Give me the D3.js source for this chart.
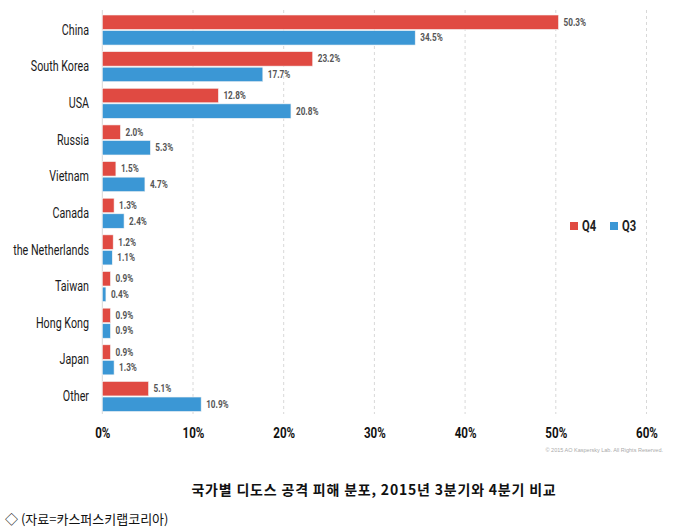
<!DOCTYPE html>
<html><head><meta charset="utf-8">
<script src="https://cdn.jsdelivr.net/npm/d3@7"></script>
<style>
body{margin:0;background:#fff;}
svg{display:block;}
</style></head>
<body><svg id="chart" width="680" height="531"></svg>
<script>
const categories = ["China","South Korea","USA","Russia","Vietnam","Canada","the Netherlands","Taiwan","Hong Kong","Japan","Other"];
const q4 = [50.3,23.2,12.8,2.0,1.5,1.3,1.2,0.9,0.9,0.9,5.1];
const q3 = [34.5,17.7,20.8,5.3,4.7,2.4,1.1,0.4,0.9,1.3,10.9];
const seriesNames = ["Q4","Q3"];
const tickValues = [0,10,20,30,40,50,60];
const colors = {"Q4":"#e04a42","Q3":"#3b97d5"};
const titleText = "국가별 디도스 공격 피해 분포, 2015년 3분기와 4분기 비교";
const sourceText = "◇ (자료=카스퍼스키랩코리아)";
const copyrightText = "© 2015 AO Kaspersky Lab. All Rights Reserved.";

const FONT = "Roboto, 'Noto Sans', sans-serif";
const svg = d3.select("#chart");
const x = d3.scaleLinear().domain([0,60]).range([102.3,646.5]);
const y = d3.scaleBand().domain(categories).range([11.7,414.8]).paddingInner(0.18).paddingOuter(0.09);
const ySub = d3.scaleBand().domain(seriesNames).range([0,y.bandwidth()]).paddingInner(0.07);

const data = categories.map((c,i)=>({cat:c, values:[{s:"Q4",v:q4[i]},{s:"Q3",v:q3[i]}]}));

// grid
svg.append("g").selectAll("line").data(tickValues).join("line")
  .attr("x1",d=>x(d)).attr("x2",d=>x(d))
  .attr("y1",10).attr("y2",414)
  .attr("stroke","#d8d8d8")
  .attr("stroke-width",1)
  .attr("stroke-dasharray",d=>d===0?null:"3,3");

// axis ticks
const xAxis = d3.axisBottom(x).tickValues(tickValues).tickFormat(d=>d+"%").tickSize(0).tickPadding(0);
const ax = svg.append("g").attr("transform","translate(0,428)").call(xAxis);
ax.select(".domain").remove();
ax.selectAll("text").attr("font-family",FONT).attr("font-size",14.5).attr("font-weight","bold").attr("fill","#111")
  .attr("dy","0.71em").attr("transform","scale(0.8,1)");

// category labels
const yAxis = d3.axisLeft(y).tickSize(0).tickPadding(0);
const ay = svg.append("g").attr("transform","translate(89,0)").call(yAxis);
ay.select(".domain").remove();
ay.selectAll("text").attr("font-family",FONT).attr("font-size",14.5).attr("fill","#1a1a1a")
  .attr("transform","scale(0.74,1)");

// bars
const g = svg.append("g").selectAll("g").data(data).join("g")
  .attr("transform",d=>`translate(0,${y(d.cat)})`);
g.selectAll("rect").data(d=>d.values).join("rect")
  .attr("x",x(0)).attr("y",d=>ySub(d.s))
  .attr("width",d=>x(d.v)-x(0)).attr("height",ySub.bandwidth())
  .attr("fill",d=>colors[d.s]).attr("stroke","#f4f4f4").attr("stroke-width",0.6);
g.selectAll("text").data(d=>d.values).join("text")
  .attr("transform",d=>`translate(${x(d.v)+5},${ySub(d.s)+ySub.bandwidth()/2}) scale(0.82,1)`)
  .attr("dy","0.35em").attr("font-family",FONT).attr("font-size",10).attr("font-weight","bold").attr("fill","#555")
  .text(d=>d.v.toFixed(1)+"%");

// legend
const leg = svg.append("g").selectAll("g").data(seriesNames).join("g")
  .attr("transform",(d,i)=>`translate(${570+i*40},222)`);
leg.append("rect").attr("width",8).attr("height",8).attr("fill",d=>colors[d]);
leg.append("text").attr("transform","translate(12,4) scale(0.8,1)").attr("dy","0.35em")
  .attr("font-family",FONT).attr("font-size",14).attr("font-weight","bold").attr("fill","#222").text(d=>d);

// copyright
svg.append("text").attr("x",663).attr("y",452).attr("text-anchor","end")
  .attr("font-family","Liberation Sans, Arial, sans-serif").attr("font-size",5.5).attr("fill","#aaa")
  .text(copyrightText);

// title
svg.append("text").attr("x",374).attr("y",495).attr("text-anchor","middle")
  .attr("font-family","'Noto Sans CJK KR', sans-serif").attr("font-size",14).attr("letter-spacing",0.8)
  .attr("font-weight","bold").attr("fill","#111")
  .text(titleText);
svg.append("text").attr("x",5).attr("y",524)
  .attr("font-family","'Noto Sans CJK KR', sans-serif").attr("font-size",13).attr("fill","#111")
  .text(sourceText);
</script></body></html>
